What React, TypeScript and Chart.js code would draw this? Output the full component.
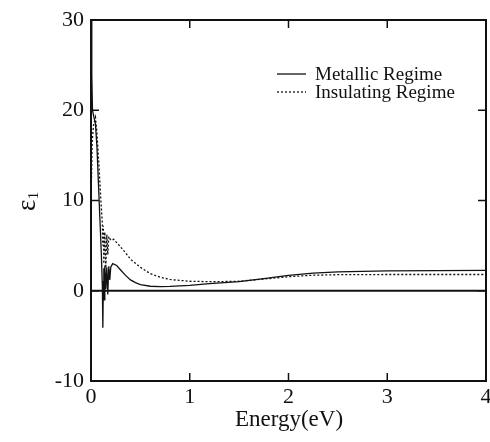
import React, { useEffect, useRef } from "react";
import { Chart, registerables } from "chart.js";
Chart.register(...registerables);

// Metallic regime (solid line)
const metallicX = [0.003, 0.008, 0.015, 0.03, 0.045, 0.06, 0.075, 0.09, 0.105, 0.115, 0.12, 0.125, 0.13, 0.135, 0.14, 0.15, 0.16, 0.17, 0.18, 0.19, 0.2, 0.22, 0.26, 0.3, 0.35, 0.4, 0.45, 0.5, 0.6, 0.7, 0.8, 1.0, 1.2, 1.5, 1.75, 2.0, 2.25, 2.5, 3.0, 3.5, 4.0];
const metallicY = [30, 24, 20, 19.2, 18.5, 16, 12, 8, 4, 0.5, -4.1, 1, 2.5, -1, 2.8, 0.2, 2.6, -0.4, 2.7, 1.2, 2.6, 3.0, 2.8, 2.3, 1.7, 1.2, 0.9, 0.68, 0.5, 0.45, 0.48, 0.6, 0.8, 1.0, 1.35, 1.7, 1.95, 2.1, 2.2, 2.22, 2.25];

// Insulating regime (dotted line)
const insulatingX = [0.005, 0.012, 0.025, 0.045, 0.06, 0.08, 0.1, 0.115, 0.12, 0.125, 0.13, 0.14, 0.15, 0.16, 0.17, 0.18, 0.2, 0.23, 0.28, 0.35, 0.4, 0.5, 0.6, 0.7, 0.8, 1.0, 1.25, 1.5, 1.75, 2.0, 2.25, 2.5, 3.0, 4.0];
const insulatingY = [12.5, 16.5, 18.3, 19.2, 17.5, 14, 10, 7.5, 5, 7.2, 3, 6.5, 2.5, 6.2, 4, 6, 5.6, 5.7, 5.1, 4.2, 3.5, 2.6, 1.9, 1.5, 1.25, 1.05, 1.0, 1.05, 1.3, 1.55, 1.72, 1.78, 1.8, 1.8];

// Zero reference line
const zeroX = [0, 4];
const zeroY = [0, 0];

const xTicks = [0, 1, 2, 3, 4];
const yTicks = [-10, 0, 10, 20, 30];
const legendLabels = ["Metallic Regime", "Insulating Regime"];
const xTitle = "Energy(eV)";

const SERIF = "'Liberation Serif', 'Times New Roman', serif";

const toPoints = (xs: number[], ys: number[]) => xs.map((x, i) => ({ x, y: ys[i] }));

const framePlugin = {
  id: "frame",
  afterDatasetsDraw(chart: any) {
    const { ctx, chartArea: a, scales } = chart;
    const x = scales.x;
    const y = scales.y;
    ctx.save();
    ctx.strokeStyle = "#111";
    ctx.lineWidth = 2;
    ctx.strokeRect(a.left, a.top, a.right - a.left, a.bottom - a.top);
    ctx.lineWidth = 1.5;
    const tl = 8;
    const seg = (x1: number, y1: number, x2: number, y2: number) => {
      ctx.beginPath();
      ctx.moveTo(x1, y1);
      ctx.lineTo(x2, y2);
      ctx.stroke();
    };
    xTicks.forEach((v) => {
      const px = x.getPixelForValue(v);
      seg(px, a.bottom, px, a.bottom - tl);
      seg(px, a.top, px, a.top + tl);
    });
    yTicks.forEach((v) => {
      const py = y.getPixelForValue(v);
      seg(a.left, py, a.left + tl, py);
      seg(a.right, py, a.right - tl, py);
    });

    // legend
    ctx.fillStyle = "#111";
    ctx.font = `19px ${SERIF}`;
    ctx.textBaseline = "middle";
    ctx.textAlign = "left";
    const lx1 = 277, lx2 = 306, tx = 315;
    const rows = [74, 92];
    ctx.lineWidth = 1.3;
    ctx.setLineDash([]);
    seg(lx1, rows[0], lx2, rows[0]);
    ctx.setLineDash([2, 2]);
    seg(lx1, rows[1], lx2, rows[1]);
    ctx.setLineDash([]);
    ctx.fillText(legendLabels[0], tx, rows[0] + 1);
    ctx.fillText(legendLabels[1], tx, rows[1] + 1);

    // x title
    ctx.font = `23px ${SERIF}`;
    ctx.textAlign = "center";
    ctx.textBaseline = "alphabetic";
    ctx.fillText(xTitle, 289, 426);

    // y title: epsilon with subscript 1, rotated
    ctx.translate(35, 211);
    ctx.rotate(-Math.PI / 2);
    ctx.textAlign = "left";
    ctx.font = `27px ${SERIF}`;
    ctx.fillText("ε", 0, 0);
    const w = ctx.measureText("ε").width;
    ctx.font = `15px ${SERIF}`;
    ctx.fillText("1", w + 0.5, 3);
    ctx.restore();
  },
};

export default function App() {
  const ref = useRef<HTMLCanvasElement>(null);
  useEffect(() => {
    if (!ref.current) return;
    const chart = new Chart(ref.current, {
      type: "line",
      data: {
        datasets: [
          {
            label: legendLabels[0],
            data: toPoints(metallicX, metallicY),
            borderColor: "#111",
            borderWidth: 1.3,
            pointRadius: 0,
            tension: 0,
            fill: false,
          },
          {
            label: legendLabels[1],
            data: toPoints(insulatingX, insulatingY),
            borderColor: "#111",
            borderWidth: 1.3,
            borderDash: [2, 2],
            pointRadius: 0,
            tension: 0,
            fill: false,
          },
          {
            label: "zero",
            data: toPoints(zeroX, zeroY),
            borderColor: "#111",
            borderWidth: 1.8,
            pointRadius: 0,
            fill: false,
          },
        ],
      },
      options: {
        responsive: false,
        animation: false,
        events: [],
        layout: { padding: { left: 0, right: 4, top: 20, bottom: 0 } },
        plugins: {
          legend: { display: false },
          tooltip: { enabled: false },
          title: { display: false },
        },
        scales: {
          x: {
            type: "linear",
            min: 0,
            max: 4,
            afterBuildTicks: (s: any) => {
              s.ticks = xTicks.map((v) => ({ value: v }));
            },
            ticks: {
              font: { family: SERIF, size: 22 },
              color: "#111",
              padding: 3,
              maxRotation: 0,
              callback: (v: any) => String(v),
            },
            grid: { display: false, drawTicks: false },
            border: { display: false },
            afterFit: (s: any) => {
              s.height = 61;
              s.paddingLeft = 0;
              s.paddingRight = 0;
            },
          },
          y: {
            type: "linear",
            min: -10,
            max: 30,
            afterBuildTicks: (s: any) => {
              s.ticks = yTicks.map((v) => ({ value: v }));
            },
            ticks: {
              font: { family: SERIF, size: 22 },
              color: "#111",
              padding: 7,
              callback: (v: any) => String(v),
            },
            grid: { display: false, drawTicks: false },
            border: { display: false },
            afterFit: (s: any) => {
              s.width = 91;
              s.paddingTop = 0;
              s.paddingBottom = 0;
            },
          },
        },
      },
      plugins: [framePlugin],
    });
    return () => chart.destroy();
  }, []);
  return (
    <div style={{ position: "absolute", left: 0, top: 0, width: 490, height: 442, background: "#fff" }}>
      <canvas ref={ref} width={490} height={442} />
    </div>
  );
}
